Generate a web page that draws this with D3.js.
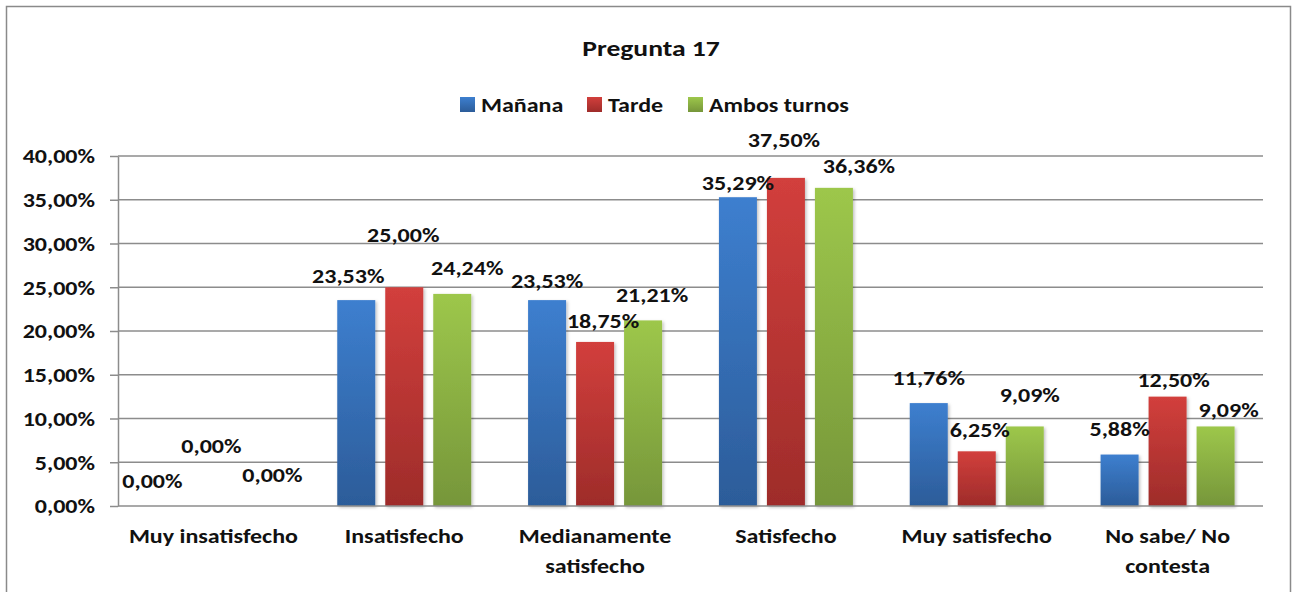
<!DOCTYPE html>
<html>
<head>
<meta charset="utf-8">
<script src="https://cdn.jsdelivr.net/npm/d3@7"></script>
<style>
  html, body { margin: 0; padding: 0; background: #fff; }
  svg { display: block; font-family: Carlito, Lato, sans-serif; font-weight: bold; }
</style>
</head>
<body>
<div id="chart"></div>
<script>
const categories = ['Muy insatisfecho', 'Insatisfecho', 'Medianamente satisfecho', 'Satisfecho', 'Muy satisfecho', 'No sabe/ No contesta']
const seriesNames = ['Mañana', 'Tarde', 'Ambos turnos']
const manana = [0, 0.2353, 0.2353, 0.3529, 0.1176, 0.0588]
const tarde = [0, 0.25, 0.1875, 0.375, 0.0625, 0.125]
const ambos = [0, 0.2424, 0.2121, 0.3636, 0.0909, 0.0909]
const yTicks = [0, 0.05, 0.10, 0.15, 0.20, 0.25, 0.30, 0.35, 0.40]

// labels were dragged around by hand in the original, [dx, dy] per bar
const labelNudge = [
  [[-13, -18], [-2, -53], [11, -24]],
  [[-8, -17], [-1, -45], [15, -19]],
  [[0, -12], [8, -14], [9, -18]],
  [[0, -7], [-2, -31], [25, -15]],
  [[0, -18], [3, -14], [5, -24]],
  [[0, -19], [6, -10], [13, -9]]
]

const colors = {
  'Mañana': ['#3d7fcf', '#2c5c99'],
  'Tarde': ['#d23f3c', '#9e2c2a'],
  'Ambos turnos': ['#9dc74b', '#76963a']
}

const width = 1292
const height = 592
const margin = { top: 156, right: 29, bottom: 86, left: 118 }
const fontSize = '20px'
// the picture is a bit wider than Calibri, so text is stretched sideways
const sx = 1.2

const es = d3.formatLocale({ decimal: ',', thousands: '.', grouping: [3], currency: ['', '€'] })
const pct = es.format('.2%')

const rows = categories.map((c, i) => ({
  category: c,
  values: [manana[i], tarde[i], ambos[i]].map((v, j) => ({ key: seriesNames[j], value: v, ci: i, si: j }))
}))

const place = (x, y) => `translate(${x},${y}) scale(${sx},1)`

const svg = d3.select('#chart')
  .append('svg')
  .attr('width', width)
  .attr('height', height)

const defs = svg.append('defs')

seriesNames.forEach((s, i) => {
  const g = defs.append('linearGradient')
    .attr('id', 'grad' + i)
    .attr('x1', 0).attr('y1', 0).attr('x2', 0).attr('y2', 1)
  g.append('stop').attr('offset', '0%').attr('stop-color', colors[s][0])
  g.append('stop').attr('offset', '100%').attr('stop-color', colors[s][1])
})

const shadow = defs.append('filter')
  .attr('id', 'shadow')
  .attr('x', '-20%').attr('y', '-5%').attr('width', '140%').attr('height', '110%')
shadow.append('feDropShadow')
  .attr('dx', 1.5).attr('dy', 1.5).attr('stdDeviation', 1.5)
  .attr('flood-color', '#000').attr('flood-opacity', 0.25)

// chart border
svg.append('rect')
  .attr('x', 6.5)
  .attr('y', 6.5)
  .attr('width', 1284)
  .attr('height', 620)
  .attr('fill', '#fff')
  .attr('stroke', '#8a8a8a')
  .attr('stroke-width', 1.5)

const x0 = d3.scaleBand()
  .domain(categories)
  .range([margin.left, width - margin.right])

const bw = x0.bandwidth()
const x1 = d3.scaleBand()
  .domain(seriesNames)
  .range([bw / 2 - 67, bw / 2 + 67])
  .paddingInner(10 / 48)

const y = d3.scaleLinear()
  .domain([0, 0.40])
  .range([height - margin.bottom, margin.top])

// gridlines
svg.append('g')
  .selectAll('line')
  .data(yTicks.slice(1))
  .join('line')
  .attr('x1', margin.left)
  .attr('x2', width - margin.right)
  .attr('y1', d => y(d))
  .attr('y2', d => y(d))
  .attr('stroke', '#8c8c8c')
  .attr('stroke-width', 1.5)

// y axis
const yAxis = svg.append('g')
  .attr('transform', `translate(${margin.left},0)`)
  .call(d3.axisLeft(y).tickValues(yTicks).tickFormat(pct).tickSize(8).tickSizeOuter(0))
yAxis.select('.domain').attr('stroke', '#8c8c8c').attr('stroke-width', 1.5)
yAxis.selectAll('.tick line').attr('stroke', '#8c8c8c').attr('stroke-width', 1.5)
yAxis.selectAll('.tick text')
  .attr('x', 0)
  .attr('dy', '0.34em')
  .attr('transform', place(-23, 0))
  .attr('fill', '#111')
  .style('font-size', fontSize)
  .style('font-family', 'Carlito, Lato, sans-serif')
  .style('font-weight', 'bold')

// bars
const groups = svg.append('g')
  .selectAll('g')
  .data(rows)
  .join('g')
  .attr('transform', d => `translate(${x0(d.category)},0)`)

groups.selectAll('rect')
  .data(d => d.values)
  .join('rect')
  .attr('x', d => x1(d.key))
  .attr('width', x1.bandwidth())
  .attr('y', d => y(d.value))
  .attr('height', d => y(0) - y(d.value))
  .attr('fill', (d, i) => `url(#grad${i})`)
  .attr('filter', 'url(#shadow)')

// x axis line
svg.append('line')
  .attr('x1', margin.left)
  .attr('x2', width - margin.right)
  .attr('y1', y(0))
  .attr('y2', y(0))
  .attr('stroke', '#8c8c8c')
  .attr('stroke-width', 1.5)

// value labels
groups.selectAll('text.val')
  .data(d => d.values)
  .join('text')
  .attr('class', 'val')
  .attr('text-anchor', 'middle')
  .attr('transform', d => place(
    x1(d.key) + x1.bandwidth() / 2 + labelNudge[d.ci][d.si][0],
    y(d.value) + labelNudge[d.ci][d.si][1]
  ))
  .attr('fill', '#111')
  .style('font-size', fontSize)
  .text(d => pct(d.value))

const wrap = (text, maxWidth) => {
  text.each(function () {
    const text = d3.select(this)
    const words = text.text().split(/\s+/).reverse()
    let word
    let line = []
    let lineNumber = 0
    let tspan = text.text(null).append('tspan').attr('x', 0).attr('y', 0)
    // eslint-disable-next-line no-cond-assign
    while (word = words.pop()) {
      line.push(word)
      tspan.text(line.join(' '))
      if (tspan.node().getComputedTextLength() > maxWidth) {
        line.pop()
        tspan.text(line.join(' '))
        line = [word]
        tspan = text.append('tspan').attr('x', 0).attr('y', ++lineNumber * 30).text(word)
      }
    }
  })
}

// category labels
svg.append('g')
  .selectAll('text')
  .data(categories)
  .join('text')
  .attr('text-anchor', 'middle')
  .attr('transform', d => place(x0(d) + bw / 2, 543))
  .attr('fill', '#111')
  .style('font-size', fontSize)
  .text(d => d)
  .call(wrap, 160)

// title
svg.append('text')
  .attr('transform', place(651, 56))
  .attr('text-anchor', 'middle')
  .attr('fill', '#111')
  .style('font-size', '23px')
  .text('Pregunta 17')

// legend
const legendX = [460, 587, 688]
const legend = svg.append('g')
  .selectAll('g')
  .data(seriesNames)
  .join('g')
  .attr('transform', (d, i) => `translate(${legendX[i]},97)`)

legend.append('rect')
  .attr('width', 15)
  .attr('height', 15)
  .attr('fill', (d, i) => `url(#grad${i})`)

legend.append('text')
  .attr('transform', place(21, 15))
  .attr('fill', '#111')
  .style('font-size', fontSize)
  .text(d => d)
</script>
</body>
</html>
